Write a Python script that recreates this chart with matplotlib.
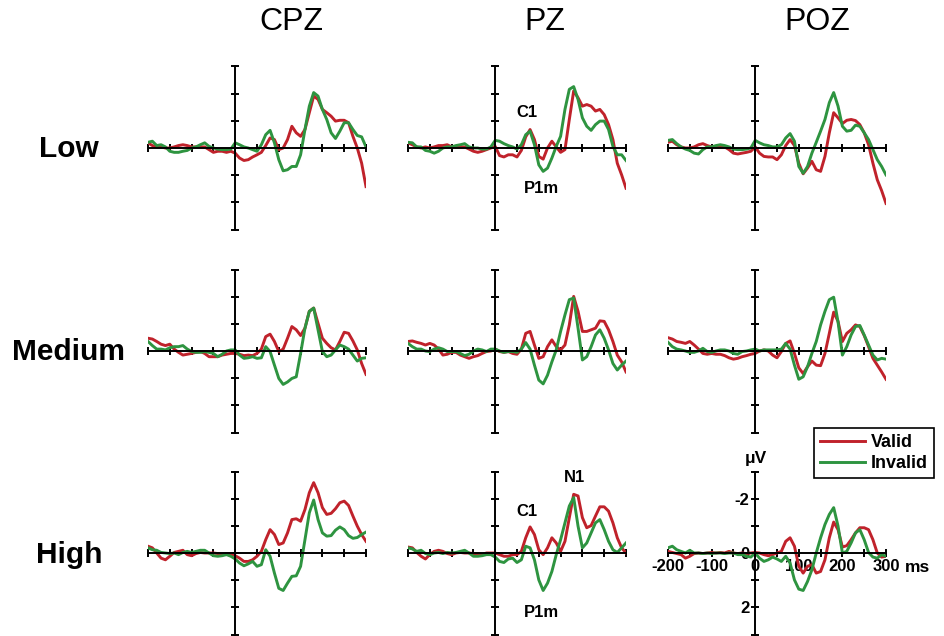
import numpy as np
import matplotlib
matplotlib.use("Agg")
import matplotlib.pyplot as plt
from matplotlib.lines import Line2D
from matplotlib.ticker import MultipleLocator

plt.rcParams['font.family'] = ['Liberation Sans', 'DejaVu Sans']

# sample times (ms), one value every 10 ms
times = np.arange(-200, 301, 10)

electrodes = ["CPZ", "PZ", "POZ"]
conditions = ["Low", "Medium", "High"]

# amplitudes in microvolts (negative is drawn upwards)
cpz_low_valid = [
    -0.19, -0.09, -0.04, -0.04, 0, 0, -0.04, -0.09, -0.12, -0.09,
    -0.04, -0.04, -0.04, -0.04, 0.06, 0.16, 0.12, 0.12, 0.16, 0.12,
    0.19, 0.37, 0.46, 0.43, 0.33, 0.25, 0.16, -0.09, -0.37, -0.31,
    0.06, 0, -0.31, -0.80, -0.56, -0.43, -0.68, -1.30, -1.91, -1.79,
    -1.42, -1.30, -1.17, -0.99, -1.02, -1.02, -0.93, -0.43, 0, 0.56, 1.42]
cpz_low_invalid = [
    -0.21, -0.25, -0.09, -0.12, -0.04, 0.12, 0.16, 0.16, 0.12, 0.09,
    0, -0.04, -0.12, -0.19, -0.06, 0, 0.04, 0.06, 0.06, 0.04,
    -0.19, -0.12, -0.04, 0, 0.06, 0.12, -0.12, -0.49, -0.65, -0.19,
    0.43, 0.84, 0.80, 0.68, 0.68, 0.25, -0.68, -1.54, -2.04, -1.91,
    -1.42, -1.05, -0.56, -0.35, -0.62, -0.93, -0.93, -0.68, -0.46, -0.41, -0.04]
pz_low_valid = [
    -0.19, -0.12, -0.04, 0, -0.04, 0, -0.04, -0.09, -0.09, -0.12,
    -0.04, -0.04, -0.04, -0.04, 0.04, 0.12, 0.16, 0.12, 0.06, 0,
    -0.06, 0.28, 0.33, 0.25, 0.25, 0.33, 0.09, -0.41, -0.68, -0.31,
    0.31, 0.41, 0, -0.25, -0.04, 0.16, 0.06, -1.05, -2.10, -1.85,
    -1.54, -1.60, -1.54, -1.36, -1.42, -1.23, -0.86, -0.31, 0.56, 0.99, 1.48]
pz_low_invalid = [
    -0.21, -0.19, -0.04, -0.04, 0.09, 0.12, 0.19, 0.12, 0, -0.04,
    -0.04, -0.09, -0.12, -0.16, -0.04, 0, 0, 0.04, 0.04, -0.04,
    -0.28, -0.25, -0.16, -0.09, -0.04, 0.04, -0.12, -0.49, -0.62, -0.12,
    0.62, 0.86, 0.74, 0.37, -0.06, -0.43, -1.42, -2.16, -2.26, -1.79,
    -1.11, -0.80, -0.65, -0.86, -0.99, -0.99, -0.68, -0.06, 0.25, 0.25, 0.46]
poz_low_valid = [
    -0.21, -0.25, -0.12, -0.04, 0, 0, -0.04, -0.12, -0.16, -0.09,
    -0.04, -0.04, -0.04, -0.04, 0.06, 0.19, 0.22, 0.19, 0.16, 0.12,
    -0.04, 0.19, 0.31, 0.33, 0.33, 0.43, 0.25, -0.09, -0.31, -0.09,
    0.56, 0.95, 0.74, 0.49, 0.80, 0.86, 0.31, -0.56, -1.30, -1.11,
    -0.90, -1.02, -1.05, -1.01, -0.86, -0.56, -0.12, 0.56, 1.17, 1.57, 2.04]
poz_low_invalid = [
    -0.28, -0.31, -0.16, -0.04, 0.04, 0.09, 0.19, 0.22, 0.06, -0.04,
    -0.04, -0.09, -0.12, -0.09, -0.04, 0.04, 0.06, 0.06, 0.04, 0,
    -0.28, -0.19, -0.12, -0.09, -0.04, -0.04, -0.12, -0.37, -0.53, -0.25,
    0.68, 0.93, 0.68, 0.19, -0.21, -0.62, -1.05, -1.67, -2.04, -1.54,
    -0.80, -0.62, -0.65, -0.84, -0.80, -0.56, -0.31, 0.06, 0.43, 0.68, 0.99]

cpz_medium_valid = [
    -0.47, -0.44, -0.35, -0.25, -0.20, -0.25, -0.07, 0.05, 0.15, 0.12,
    0.09, 0.05, 0.02, 0.09, 0.21, 0.21, 0.21, 0.15, 0.12, 0.09,
    0.09, 0.12, 0.17, 0.15, 0.17, 0.09, -0.07, -0.53, -0.62, -0.35,
    0.02, -0.07, -0.47, -0.90, -0.78, -0.57, -0.84, -1.46, -1.58, -1.02,
    -0.47, -0.28, -0.12, -0.04, -0.35, -0.69, -0.65, -0.37, -0.04, 0.46, 0.86]
cpz_medium_invalid = [
    -0.35, -0.20, -0.07, -0.07, -0.04, -0.12, -0.16, -0.16, -0.20, -0.07,
    0.02, 0.05, 0.05, 0.02, 0.05, 0.09, 0.21, 0.12, 0, -0.04,
    -0.04, 0.15, 0.27, 0.25, 0.21, 0.27, 0.25, -0.16, 0.02, 0.52,
    1.01, 1.23, 1.14, 1.01, 0.95, 0.09, -0.84, -1.46, -1.58, -0.78,
    0.02, 0.21, 0.15, -0.04, -0.22, -0.16, -0.07, 0.15, 0.37, 0.27, 0.25]
pz_medium_valid = [
    -0.35, -0.37, -0.32, -0.28, -0.22, -0.28, -0.22, -0.07, 0.15, 0.12,
    0.05, 0.05, 0.15, 0.21, 0.27, 0.21, 0.17, 0.09, 0.02, 0,
    -0.07, 0.02, 0.05, 0.02, 0.09, 0.12, -0.07, -0.65, -0.72, -0.22,
    0.27, 0.21, -0.16, -0.41, -0.16, -0.04, -0.22, -0.96, -2.01, -1.46,
    -0.72, -0.72, -0.78, -0.84, -1.11, -1.09, -0.78, -0.35, 0.15, 0.40, 0.77]
pz_medium_invalid = [
    -0.28, -0.16, -0.07, -0.07, 0, 0.02, -0.07, -0.12, -0.07, 0.02,
    0.02, 0.02, 0.09, 0.17, 0.12, 0, -0.07, -0.04, 0.02, -0.07,
    -0.07, 0, 0.05, 0.02, 0.02, 0.05, -0.07, -0.31, -0.07, 0.52,
    1.07, 1.21, 0.89, 0.40, -0.04, -0.72, -1.33, -1.89, -1.95, -0.84,
    0.33, 0.21, -0.16, -0.59, -0.78, -0.47, -0.04, 0.46, 0.70, 0.52, 0.37]
poz_medium_valid = [
    -0.49, -0.44, -0.35, -0.32, -0.28, -0.35, -0.22, -0.07, 0.09, 0.12,
    0.09, 0.12, 0.12, 0.17, 0.25, 0.30, 0.27, 0.21, 0.17, 0.12,
    0.09, 0, -0.04, 0, 0.15, 0.25, 0.02, -0.28, -0.37, 0.09,
    0.62, 0.83, 0.58, 0.37, 0.52, 0.54, 0.09, -0.65, -1.43, -1.09,
    -0.35, -0.65, -0.78, -0.96, -0.90, -0.57, -0.16, 0.27, 0.52, 0.77, 1.04]
poz_medium_invalid = [
    -0.32, -0.16, -0.07, -0.04, 0, 0.05, 0.05, 0, -0.10, 0.02,
    0.05, 0, -0.04, -0.04, 0, 0.09, 0.12, 0.02, 0, -0.04,
    -0.07, 0, -0.04, -0.04, -0.04, -0.04, -0.07, -0.28, -0.07, 0.52,
    1.04, 0.95, 0.58, 0.09, -0.35, -0.96, -1.46, -1.89, -1.98, -1.07,
    0.15, -0.16, -0.59, -0.90, -0.94, -0.59, -0.22, 0.15, 0.33, 0.27, 0.30]

cpz_high_valid = [
    -0.25, -0.19, 0, 0.19, 0.25, 0.12, -0.02, -0.06, -0.10, 0.06,
    0.10, 0.02, -0.02, 0, 0, 0, 0.02, 0.06, 0.02, 0.02,
    0.10, 0.19, 0.31, 0.31, 0.25, 0.12, -0.06, -0.49, -0.86, -0.68,
    -0.31, -0.37, -0.74, -1.23, -1.26, -1.17, -1.60, -2.22, -2.59, -2.22,
    -1.67, -1.42, -1.46, -1.63, -1.85, -1.91, -1.75, -1.36, -0.99, -0.68, -0.43]
cpz_high_invalid = [
    -0.19, -0.12, -0.10, -0.02, 0, 0.02, 0, 0.06, -0.02, -0.06,
    -0.02, -0.06, -0.10, -0.10, 0, 0.10, 0.12, 0.10, 0.06, 0.12,
    0.22, 0.37, 0.47, 0.40, 0.31, 0.49, 0.43, -0.12, 0.12, 0.74,
    1.30, 1.38, 1.11, 0.86, 0.84, 0.49, -0.49, -1.48, -1.95, -1.23,
    -0.74, -0.62, -0.64, -0.84, -0.96, -0.86, -0.64, -0.54, -0.57, -0.68, -0.77]
pz_high_valid = [
    -0.22, -0.19, -0.02, 0.12, 0.22, 0.06, -0.06, -0.10, -0.06, 0.02,
    0.06, 0, -0.02, 0, 0, 0.02, 0.02, 0.06, 0, 0,
    0, 0.06, 0.12, 0.12, 0.06, 0.06, -0.06, -0.56, -0.96, -0.68,
    -0.12, 0.06, -0.19, -0.56, -0.37, -0.06, -0.43, -1.30, -2.16, -2.10,
    -1.30, -0.93, -1.01, -1.36, -1.70, -1.70, -1.54, -1.11, -0.56, -0.19, 0]
pz_high_invalid = [
    -0.19, -0.15, -0.06, -0.10, 0.02, 0.06, 0, -0.02, 0.02, -0.02,
    0, -0.02, -0.06, -0.10, 0, 0.12, 0.12, 0.10, 0.06, 0.06,
    0.15, 0.31, 0.35, 0.22, 0.19, 0.35, 0.25, -0.25, -0.19, 0.25,
    0.99, 1.38, 1.11, 0.68, 0.06, -0.49, -1.11, -1.73, -2.04, -0.99,
    -0.19, -0.37, -0.74, -1.11, -1.23, -0.86, -0.43, -0.12, -0.02, -0.19, -0.37]
poz_high_valid = [
    -0.06, -0.02, 0.02, 0.06, 0.19, 0.12, 0.02, 0, 0.02, 0,
    -0.02, 0, -0.02, 0, -0.06, 0, 0.02, 0, 0.02, 0,
    -0.02, 0, 0.06, 0.10, 0.06, 0, -0.06, -0.43, -0.56, -0.25,
    0.49, 0.74, 0.49, 0.43, 0.74, 0.68, 0.25, -0.56, -1.14, -0.86,
    -0.22, -0.27, -0.49, -0.74, -0.93, -0.93, -0.86, -0.49, 0, 0.15, 0.12]
poz_high_invalid = [
    -0.19, -0.25, -0.12, -0.06, 0, -0.10, 0, 0, 0.02, 0,
    0.02, 0, 0, 0.02, 0, 0, 0.06, 0.06, 0.12, 0.15,
    0, 0.19, 0.31, 0.25, 0.15, 0.22, 0.31, 0.12, 0.37, 0.99,
    1.33, 1.38, 1.05, 0.62, 0, -0.56, -1.05, -1.42, -1.67, -0.99,
    0, -0.06, -0.37, -0.74, -0.86, -0.49, -0.02, 0.15, 0.19, 0.06, 0.12]

waves = [
    [(cpz_low_valid, cpz_low_invalid), (pz_low_valid, pz_low_invalid),
     (poz_low_valid, poz_low_invalid)],
    [(cpz_medium_valid, cpz_medium_invalid), (pz_medium_valid, pz_medium_invalid),
     (poz_medium_valid, poz_medium_invalid)],
    [(cpz_high_valid, cpz_high_invalid), (pz_high_valid, pz_high_invalid),
     (poz_high_valid, poz_high_invalid)],
]

RED = "#C0222B"
GREEN = "#2E9440"

W, H = 944, 636
fig = plt.figure(figsize=(W / 100, H / 100), dpi=100)
fig.patch.set_facecolor("white")

col_left = [148, 408, 668]
row_top = [66.5, 269.5, 471.5]
pw, ph = 218, 163

axes = {}
for r, top in enumerate(row_top):
    for c, left in enumerate(col_left):
        ax = fig.add_axes([left / W, 1 - (top + ph) / H, pw / W, ph / H])
        valid, invalid = waves[r][c]
        ax.plot(times, valid, color=RED, lw=2.1, solid_joinstyle="round")
        ax.plot(times, invalid, color=GREEN, lw=2.1, solid_joinstyle="round")
        ax.set_xlim(-200, 300)
        ax.set_ylim(3, -3)
        ax.patch.set_visible(False)
        for side in ("top", "right"):
            ax.spines[side].set_visible(False)
        ax.spines["left"].set_position(("data", 0))
        ax.spines["bottom"].set_position(("data", 0))
        for side in ("left", "bottom"):
            ax.spines[side].set_linewidth(1.4)
        ax.xaxis.set_major_locator(MultipleLocator(100))
        ax.xaxis.set_minor_locator(MultipleLocator(50))
        ax.yaxis.set_major_locator(MultipleLocator(2))
        ax.yaxis.set_minor_locator(MultipleLocator(1))
        ax.tick_params(which="both", direction="inout", length=5.5, width=1.4,
                       colors="black")
        last = (r == 2 and c == 2)
        ax.tick_params(labelbottom=last, labelleft=last, labelsize=12, pad=1.5)
        axes[(r, c)] = ax

# tick labels of the scale panel
ax = axes[(2, 2)]
ax.set_xticks([-200, -100, 0, 100, 200, 300])
ax.set_xticklabels(["-200", "-100", "0", "100", "200", "300"])
ax.set_yticks([-2, 0, 2])
ax.set_yticklabels(["-2", "0", "2"])
for lab in ax.get_xticklabels() + ax.get_yticklabels():
    lab.set_fontweight("bold")
fig.text(918 / W, 1 - 567 / H, "ms", ha="center", va="center",
         fontsize=12.5, fontweight="bold")
fig.text(756 / W, 1 - 459 / H, "\u03bcV", ha="center", va="center",
         fontsize=12.5, fontweight="bold")

# component labels
for (r, label, x, y) in [(0, "C1", 73, -1.3), (0, "P1m", 105, 1.48),
                         (2, "N1", 181, -2.78), (2, "C1", 73, -1.52),
                         (2, "P1m", 105, 2.19)]:
    axes[(r, 1)].text(x, y, label, ha="center", va="center", fontsize=12,
                      fontweight="bold")

# column and row titles
for name, cx in zip(electrodes, [291, 545, 817]):
    fig.text(cx / W, 1 - 22 / H, name, ha="center", va="center", fontsize=23)
for name, cy in zip(conditions, [149, 352, 555]):
    fig.text(69 / W, 1 - cy / H, name, ha="center", va="center", fontsize=21.5,
             fontweight="bold")

handles = [Line2D([], [], color=RED, lw=2.1), Line2D([], [], color=GREEN, lw=2.1)]
leg = fig.legend(handles, ["Valid", "Invalid"], loc="upper left",
                 bbox_to_anchor=(814 / W, 1 - 428 / H), frameon=True,
                 fancybox=False, edgecolor="black", framealpha=1,
                 prop={"weight": "bold", "size": 13}, handlelength=2.5,
                 handletextpad=0.3, borderpad=0.35, labelspacing=0.2,
                 borderaxespad=0)
leg.get_frame().set_linewidth(1.2)

fig.savefig("out.png", dpi=100, facecolor="white")
